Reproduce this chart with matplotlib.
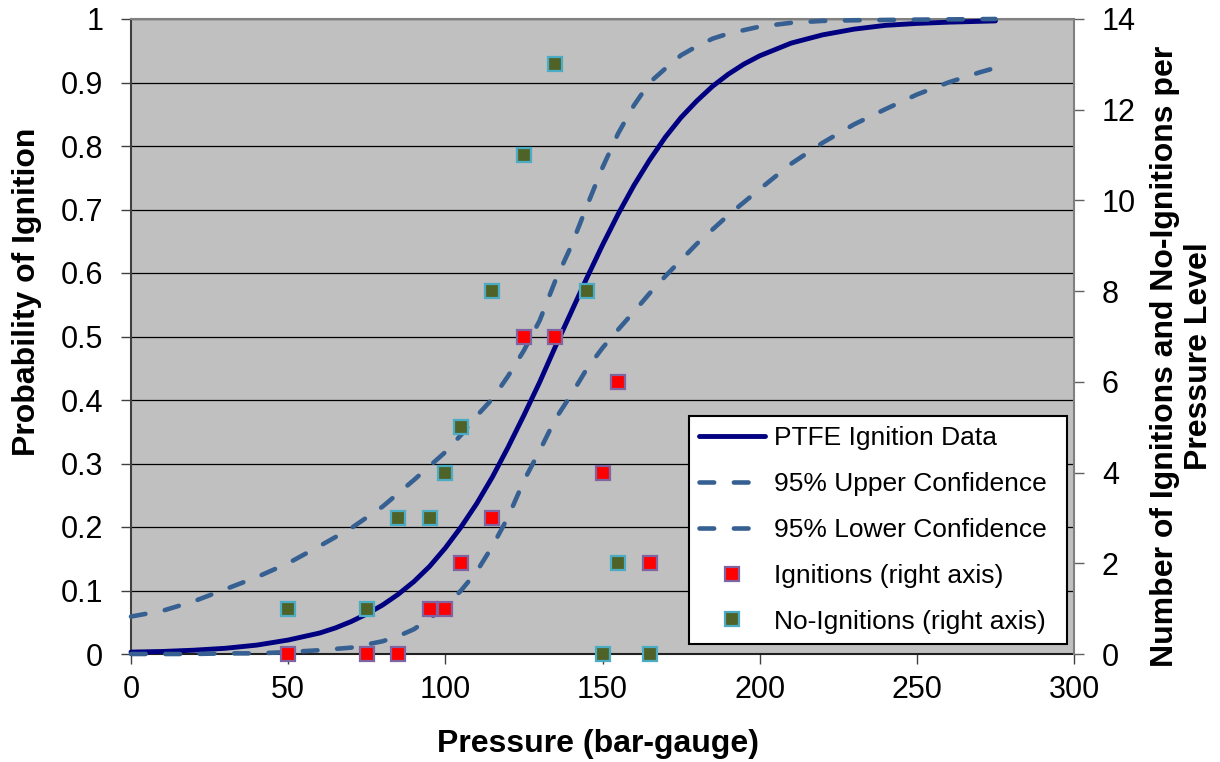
import matplotlib
matplotlib.use("Agg")
import matplotlib.pyplot as plt

plt.rcParams['font.family'] = ['Liberation Sans', 'DejaVu Sans']

# ---- data ----
ptfe_pressure = [0, 10, 20, 30, 40, 50, 60, 65, 70, 75, 80, 85, 90, 95, 100, 105, 110,
                 115, 120, 125, 130, 135, 140, 145, 150, 155, 160, 165, 170, 175, 180,
                 185, 190, 195, 200, 210, 220, 230, 240, 250, 260, 275]
ptfe_prob = [0.003, 0.004, 0.006, 0.009, 0.014, 0.022, 0.033, 0.041, 0.051, 0.063,
             0.077, 0.094, 0.114, 0.138, 0.167, 0.200, 0.237, 0.279, 0.326, 0.376,
             0.428, 0.484, 0.538, 0.592, 0.644, 0.693, 0.738, 0.778, 0.814, 0.845,
             0.871, 0.894, 0.913, 0.929, 0.942, 0.962, 0.975, 0.984, 0.990, 0.993,
             0.995, 0.997]

upper_pressure = [0, 10, 20, 30, 40, 50, 60, 70, 80, 90, 100, 105, 110, 115, 120, 125,
                  130, 135, 140, 145, 150, 155, 160, 165, 170, 175, 180, 185, 190, 200,
                  210, 220, 230, 250, 275]
upper_prob = [0.059, 0.068, 0.083, 0.102, 0.121, 0.143, 0.170, 0.198, 0.232, 0.274,
              0.318, 0.345, 0.375, 0.402, 0.438, 0.478, 0.525, 0.588, 0.642, 0.705,
              0.766, 0.820, 0.864, 0.900, 0.922, 0.943, 0.957, 0.969, 0.977, 0.988,
              0.994, 0.997, 0.998, 0.999, 1.0]

lower_pressure = [0, 10, 20, 30, 40, 50, 60, 70, 80, 85, 90, 95, 100, 105, 110, 115,
                  120, 125, 130, 135, 140, 145, 150, 155, 160, 165, 170, 180, 190, 200,
                  210, 220, 230, 240, 250, 260, 270, 275]
lower_prob = [0.000, 0.000, 0.000, 0.001, 0.001, 0.003, 0.006, 0.010, 0.020, 0.028,
              0.039, 0.056, 0.075, 0.100, 0.130, 0.170, 0.216, 0.273, 0.320, 0.370,
              0.408, 0.449, 0.482, 0.511, 0.539, 0.568, 0.595, 0.646, 0.691, 0.732,
              0.772, 0.805, 0.834, 0.858, 0.881, 0.900, 0.916, 0.923]

ign_pressure = [50, 75, 85, 95, 100, 105, 115, 125, 135, 150, 155, 165]
ign_count = [0, 0, 0, 1, 1, 2, 3, 7, 7, 4, 6, 2]
noign_pressure = [50, 75, 85, 95, 100, 105, 115, 125, 135, 145, 150, 155, 165]
noign_count = [1, 1, 3, 3, 4, 5, 8, 11, 13, 8, 0, 2, 0]

x_ticks = [0, 50, 100, 150, 200, 250, 300]
left_ticks = [0, 0.1, 0.2, 0.3, 0.4, 0.5, 0.6, 0.7, 0.8, 0.9, 1.0]
left_tick_labels = ["0", "0.1", "0.2", "0.3", "0.4", "0.5", "0.6", "0.7", "0.8", "0.9", "1"]
right_ticks = [0, 2, 4, 6, 8, 10, 12, 14]

series_labels = ["PTFE Ignition Data", "95% Upper Confidence", "95% Lower Confidence",
                 "Ignitions (right axis)", "No-Ignitions (right axis)"]

# ---- figure ----
W, H = 1220, 762
fig = plt.figure(figsize=(W / 100, H / 100), dpi=100)
ax = fig.add_axes([131 / W, 1 - 654 / H, (1074 - 131) / W, (654 - 19) / H])
ax.set_facecolor('#C0C0C0')

dash_col = '#366092'
dash_pat = (3.2, 4.3)
l1, = ax.plot(ptfe_pressure, ptfe_prob, color='#000080', lw=3.5,
              solid_capstyle='round', solid_joinstyle='round', clip_on=False,
              zorder=3, label=series_labels[0])
l2, = ax.plot(upper_pressure, upper_prob, color=dash_col, lw=3.3, dashes=dash_pat,
              dash_capstyle='round', clip_on=False, zorder=3, label=series_labels[1])
l3, = ax.plot(lower_pressure, lower_prob, color=dash_col, lw=3.3, dashes=dash_pat,
              dash_capstyle='round', clip_on=False, zorder=3, label=series_labels[2])

ax.set_xlim(0, 300)
ax.set_ylim(0, 1)
ax.set_xticks(x_ticks)
ax.set_yticks(left_ticks)
ax.set_yticklabels(left_tick_labels)
ax.yaxis.grid(True, color='black', lw=0.9)
ax.xaxis.grid(False)
ax.set_axisbelow(True)

ax.tick_params(axis='x', direction='out', length=7, width=1, color='#404040',
               labelsize=22, pad=8)
ax.tick_params(axis='y', direction='out', length=7, width=1, color='#404040',
               labelsize=22, pad=13)

ax.spines['left'].set_color('#404040')
ax.spines['left'].set_linewidth(1.5)
ax.spines['bottom'].set_color('#202020')
ax.spines['bottom'].set_linewidth(1.5)
ax.spines['top'].set_color('#808080')
ax.spines['top'].set_linewidth(1.5)
ax.spines['right'].set_visible(False)

ax2 = ax.twinx()
ax2.set_ylim(0, 14)
ax2.set_yticks(right_ticks)
ax2.tick_params(axis='y', direction='out', length=7, width=1, color='#606060',
                labelsize=22, pad=13)
for s in ['left', 'top', 'bottom']:
    ax2.spines[s].set_visible(False)
ax2.spines['right'].set_color('#808080')
ax2.spines['right'].set_linewidth(1.5)

m1, = ax2.plot(ign_pressure, ign_count, ls='none', marker='s', ms=9.8,
               mfc='#FF0000', mec='#8064A2', mew=1.6, clip_on=False, zorder=4,
               label=series_labels[3])
m2, = ax2.plot(noign_pressure, noign_count, ls='none', marker='s', ms=9.8,
               mfc='#4F6228', mec='#4BACC6', mew=1.6, clip_on=False, zorder=4,
               label=series_labels[4])

leg = ax2.legend([l1, l2, l3, m1, m2], series_labels, loc='upper left',
                 bbox_to_anchor=(689 / W, 1 - 642 / H, (1067 - 689) / W, (642 - 416) / H),
                 bbox_transform=fig.transFigure, mode='expand', borderaxespad=0,
                 fontsize=19, frameon=True, fancybox=False, edgecolor='black',
                 facecolor='white', framealpha=1, handlelength=2.5,
                 handletextpad=0.35, labelspacing=0.83, borderpad=0.38, numpoints=1)
leg.get_frame().set_linewidth(1.5)

# axis titles
fig.text(598 / W, 10 / H, 'Pressure (bar-gauge)', ha='center', va='baseline',
         fontsize=23, fontweight='bold')
fig.text(27 / W, 1 - 292 / H, 'Probability of Ignition', rotation=90,
         ha='center', va='center', fontsize=23, fontweight='bold')
fig.text(1182 / W, 1 - 356 / H, 'Number of Ignitions and No-Ignitions per\nPressure Level',
         rotation=90, ha='center', va='center', multialignment='center',
         fontsize=23, fontweight='bold')

fig.savefig('out.png', dpi=100, facecolor='white')
